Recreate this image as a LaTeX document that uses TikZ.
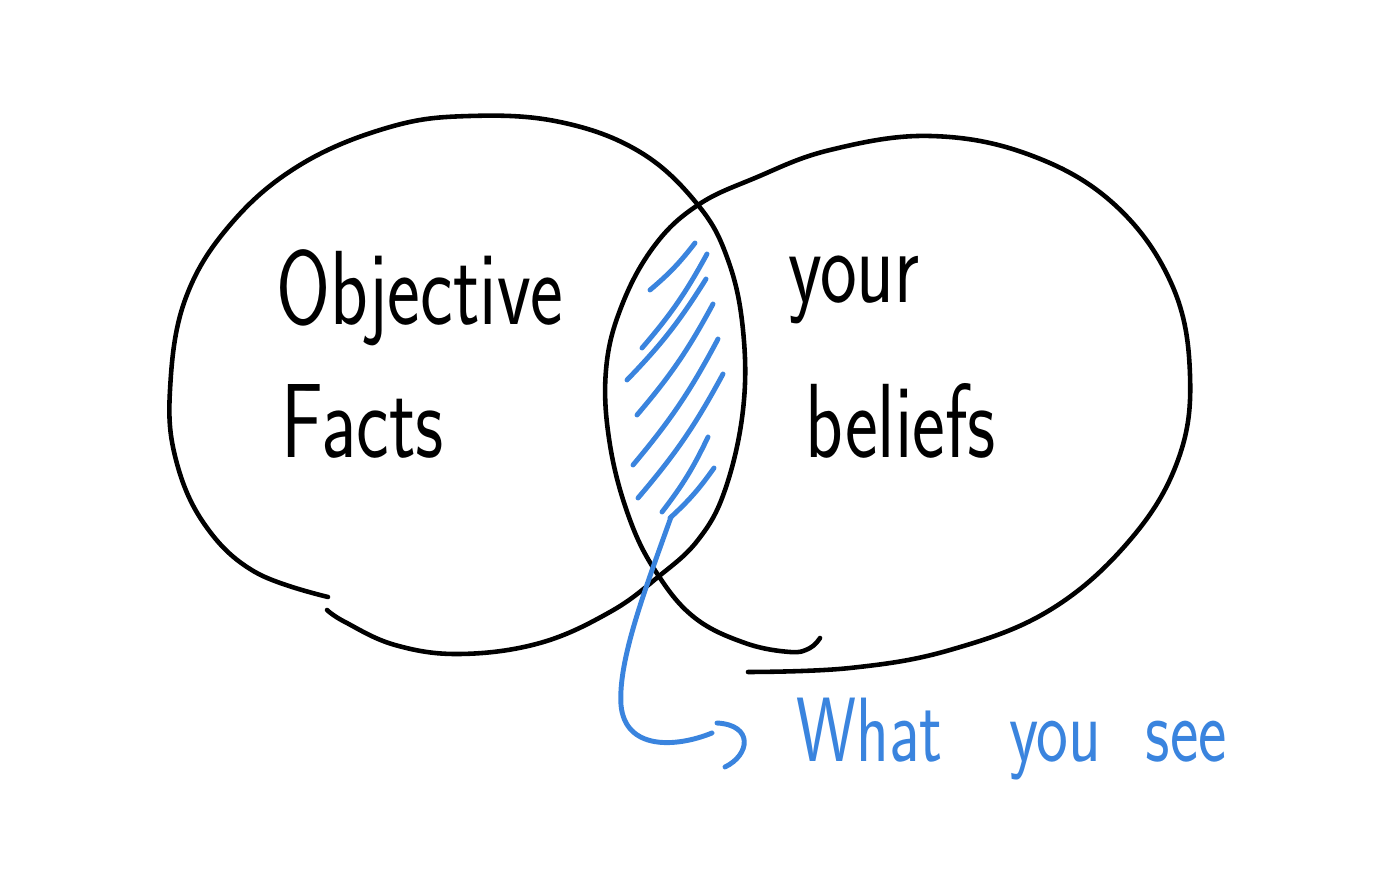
\documentclass[tikz,border=0pt]{standalone}
\usetikzlibrary{calc}

\definecolor{penblue}{RGB}{58,132,222}

\begin{document}
\begin{tikzpicture}[
  x=0.01cm, y=-0.01cm,
  ring/.style={draw=black, line width=1.3pt, line cap=round, line join=round},
  hatch/.style={draw=penblue, line width=1.4pt, line cap=round},
  pen/.style={draw=penblue, line width=1.4pt, line cap=round},
  hand/.style={font=\sffamily\fontsize{30}{36}\selectfont, inner sep=0pt, anchor=base west, xscale=0.74},
  bluehand/.style={hand, text=penblue, font=\sffamily\fontsize{26}{30}\selectfont}
]
\useasboundingbox (0,0) rectangle (1400,886);

% Objective facts (left ring, open at the bottom)
\draw[ring] plot[smooth, tension=0.65] coordinates {
  (328,597) (255,572) (205,525) (176,460) (170,390) (185,300) (230,225)
  (300,165) (390,127) (470,116) (560,122) (640,152) (698,205) (728,260)
  (743,330) (743,410) (725,490) (698,540) (658,577) (610,612) (540,643)
  (460,654) (395,645) (345,622) (327,610)};

% your beliefs (right ring, open at the bottom)
\draw[ring] plot[smooth, tension=0.65] coordinates {
  (748,672) (850,668) (950,650) (1050,610) (1130,540) (1178,460)
  (1190,375) (1172,285) (1115,205) (1030,155) (930,136) (830,150)
  (755,178) (698,205) (655,245) (622,305) (606,370) (610,445)
  (630,520) (658,575) (695,618) (745,643) (790,652) (810,648) (820,638)};

% shading of the overlap
\foreach \xa/\ya/\xb/\yb in {
  695/243/650/290, 707/254/642/348, 706/279/627/380, 713/304/637/415,
  718/339/633/465, 723/374/638/498, 708/437/662/512, 714/468/670/518}
  \draw[hatch] (\xa,\ya) to[bend left=6] (\xb,\yb);

% labels
\node[hand] (objective) at (276,325) {Objective};
\node[hand] (facts) at (281,458) {Facts};
\node[hand] (your) at (788,303) {your};
\node[hand] (beliefs) at (805,458) {beliefs};
\node[bluehand] (seen) at (796,762) {What\hspace{0.9cm}you\hspace{0.6cm}see};

% pointer from the overlap to the caption
\coordinate (lens) at (671,517);
\coordinate (tip) at (712,733);
\draw[pen] (lens) .. controls (645,590) and (618,660) .. (621,705)
  .. controls (625,750) and (675,748) .. (tip);
\draw[pen] ([shift={(5,-10)}]tip) .. controls ([shift={(42,-8)}]tip)
  and ([shift={(38,22)}]tip) .. ([shift={(13,34)}]tip);

\end{tikzpicture}
\end{document}
